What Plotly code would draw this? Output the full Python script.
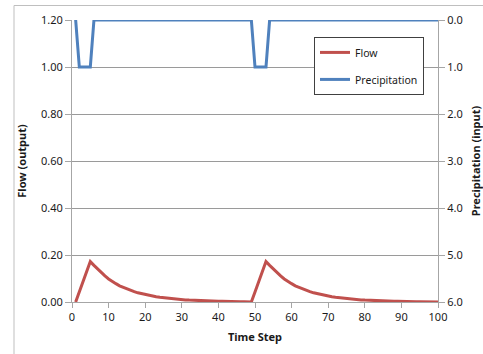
import plotly.graph_objects as go

time_step = list(range(1, 101))

flow = [
    0.000, 0.043, 0.086, 0.129, 0.172, 0.156, 0.140, 0.125, 0.111, 0.098,
    0.087, 0.078, 0.069, 0.062, 0.055, 0.049, 0.044, 0.039, 0.035, 0.031,
    0.028, 0.025, 0.022, 0.020, 0.018, 0.016, 0.014, 0.012, 0.011, 0.010,
    0.009, 0.008, 0.007, 0.006, 0.005, 0.005, 0.004, 0.004, 0.003, 0.003,
    0.003, 0.002, 0.002, 0.002, 0.002, 0.001, 0.001, 0.001,
    0.000, 0.043, 0.086, 0.129, 0.172, 0.156, 0.140, 0.125, 0.111, 0.098,
    0.087, 0.078, 0.069, 0.062, 0.055, 0.049, 0.044, 0.039, 0.035, 0.031,
    0.028, 0.025, 0.022, 0.020, 0.018, 0.016, 0.014, 0.012, 0.011, 0.010,
    0.009, 0.008, 0.007, 0.006, 0.005, 0.005, 0.004, 0.004, 0.003, 0.003,
    0.003, 0.002, 0.002, 0.002, 0.002, 0.001, 0.001, 0.001,
    0.001, 0.001, 0.001, 0.000,
]

precipitation = [
    0, 1, 1, 1, 1, 0, 0, 0, 0, 0,
    0, 0, 0, 0, 0, 0, 0, 0, 0, 0,
    0, 0, 0, 0, 0, 0, 0, 0, 0, 0,
    0, 0, 0, 0, 0, 0, 0, 0, 0, 0,
    0, 0, 0, 0, 0, 0, 0, 0, 0, 1,
    1, 1, 1, 0, 0, 0, 0, 0, 0, 0,
    0, 0, 0, 0, 0, 0, 0, 0, 0, 0,
    0, 0, 0, 0, 0, 0, 0, 0, 0, 0,
    0, 0, 0, 0, 0, 0, 0, 0, 0, 0,
    0, 0, 0, 0, 0, 0, 0, 0, 0, 0,
]

FONT = "Noto Sans"
TXT = "#1a1a1a"
GRID = "#9a9a9a"
AX = "#a6a6a6"

fig = go.Figure()
fig.add_trace(go.Scatter(
    x=time_step, y=flow, name="Flow", mode="lines",
    line=dict(color="#C0504D", width=3), legendgroup="a",
))
fig.add_trace(go.Scatter(
    x=time_step, y=precipitation, name="Precipitation", mode="lines",
    line=dict(color="#4F81BD", width=3), yaxis="y2", legendgroup="b",
))

fig.update_layout(
    width=483, height=354,
    margin=dict(l=72, r=45, t=20, b=52, autoexpand=False),
    paper_bgcolor="white", plot_bgcolor="white",
    font=dict(family=FONT, size=11, color=TXT),
    showlegend=True,
    legend=dict(
        x=(424 - 72) / 366, y=0.94, xanchor="right", yanchor="top",
        bgcolor="white", bordercolor="#404040", borderwidth=1,
        traceorder="grouped", tracegroupgap=8,
        font=dict(family=FONT, size=10.5, color=TXT),
        itemwidth=30,
    ),
    xaxis=dict(
        range=[0, 100], tickmode="linear", tick0=0, dtick=10,
        automargin=False,
        showgrid=False, zeroline=False,
        showline=True, linecolor=AX, linewidth=1,
        ticks="outside", ticklen=5, tickcolor=AX,
        title=dict(text="<b>Time Step</b>", standoff=10,
                   font=dict(family=FONT, size=11, color=TXT)),
    ),
    yaxis=dict(
        range=[0, 1.2], tickmode="linear", tick0=0, dtick=0.2,
        tickformat=".2f", automargin=False,
        showgrid=True, gridcolor=GRID, gridwidth=1,
        zeroline=False,
        showline=True, linecolor=AX, linewidth=1,
        ticks="outside", ticklen=6, tickcolor=AX,
        title=dict(text="<b>Flow (output)</b>", standoff=12,
                   font=dict(family=FONT, size=11, color=TXT)),
    ),
    yaxis2=dict(
        range=[6, 0], tickmode="linear", tick0=0, dtick=1,
        tickformat=".1f", automargin=False,
        overlaying="y", side="right",
        showgrid=False, zeroline=False,
        showline=True, linecolor=AX, linewidth=1,
        ticks="outside", ticklen=6, tickcolor=AX,
        title=dict(text="<b>Precipitation (input)</b>", standoff=10,
                   font=dict(family=FONT, size=11, color=TXT)),
    ),
)

# outer chart-area border (partly cut off at right/bottom in the reference)
fig.add_shape(type="rect", xref="paper", yref="paper",
              x0=(14 - 72) / 366, x1=(495 - 72) / 366,
              y0=(302 - 365) / 282, y1=(302 - 5.5) / 282,
              line=dict(color="#bfbfbf", width=1), fillcolor="rgba(0,0,0,0)",
              layer="below")

fig.write_html("out.html")
